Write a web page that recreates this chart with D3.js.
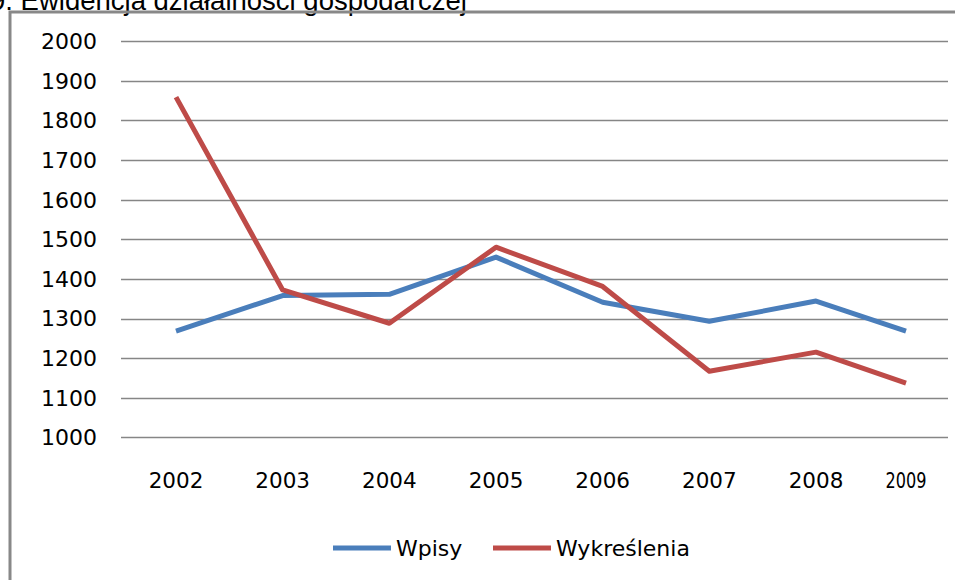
<!DOCTYPE html>
<html>
<head>
<meta charset="utf-8">
<script src="https://cdn.jsdelivr.net/npm/d3@7"></script>
<style>
  body { margin: 0; background: #fff; }
  svg { display: block; }
</style>
</head>
<body>
<div id="chart"></div>
<script>
// data
const years = [2002, 2003, 2004, 2005, 2006, 2007, 2008, 2009];
const wpisy = [1268, 1358, 1361, 1455, 1341, 1293, 1344, 1268];
const wykreslenia = [1859, 1372, 1288, 1480, 1381, 1167, 1215, 1137];
const yTicks = [1000, 1100, 1200, 1300, 1400, 1500, 1600, 1700, 1800, 1900, 2000];
const seriesNames = ["Wpisy", "Wykreślenia"];
const colors = ["#4a7ebb", "#be4b48"];

const width = 955, height = 580;

const svg = d3.select("#chart").append("svg")
    .attr("width", width)
    .attr("height", height);

// title, cut off at the top of the picture
svg.append("text")
    .attr("x", -10)
    .attr("y", 10)
    .attr("font-family", "Liberation Sans, Arial, sans-serif")
    .attr("font-size", 27.5)
    .attr("fill", "#000")
    .text("9. Ewidencja działalności gospodarczej");

// chart frame (left + top border)
svg.append("path")
    .attr("d", "M10,580 V12 H955")
    .attr("fill", "none")
    .attr("stroke", "#888")
    .attr("stroke-width", 3);

// scales - last category sits closer in the original
const x = d3.scaleLinear()
    .domain([2002, 2008, 2009])
    .range([176, 816, 906]);

const y = d3.scaleLinear()
    .domain([1000, 2000])
    .range([437.3, 41.3]);

// gridlines
svg.append("g")
    .selectAll("line")
    .data(yTicks)
    .join("line")
    .attr("x1", 121)
    .attr("x2", 948)
    .attr("y1", d => Math.round(y(d)) + 0.5)
    .attr("y2", d => Math.round(y(d)) + 0.5)
    .attr("stroke", "#868686")
    .attr("stroke-width", 1.5);

// y labels
svg.append("g")
    .selectAll("text")
    .data(yTicks)
    .join("text")
    .attr("x", 97)
    .attr("y", d => y(d))
    .attr("dy", "0.36em")
    .attr("text-anchor", "end")
    .attr("font-family", "DejaVu Sans, sans-serif")
    .attr("font-size", 22)
    .attr("fill", "#000")
    .text(d => d);

// x labels
svg.append("g")
    .selectAll("text")
    .data(years)
    .join("text")
    .attr("x", d => x(d))
    .attr("y", 488)
    .attr("text-anchor", "middle")
    .attr("font-family", d => d === 2009 ? "DejaVu Sans Condensed, DejaVu Sans, sans-serif" : "DejaVu Sans, sans-serif")
    .attr("font-size", 21.5)
    .attr("textLength", d => d === 2009 ? 41 : null)
    .attr("lengthAdjust", "spacingAndGlyphs")
    .attr("fill", "#000")
    .text(d => d);

// lines
const line = d3.line()
    .x((d, i) => x(years[i]))
    .y(d => y(d));

[wpisy, wykreslenia].forEach((vals, i) => {
    svg.append("path")
        .datum(vals)
        .attr("d", line)
        .attr("fill", "none")
        .attr("stroke", colors[i])
        .attr("stroke-width", 5)
        .attr("stroke-linejoin", "round");
});

// legend
const legendX = [333, 493];
const legend = svg.append("g");
seriesNames.forEach((name, i) => {
    legend.append("line")
        .attr("x1", legendX[i])
        .attr("x2", legendX[i] + 58)
        .attr("y1", 548)
        .attr("y2", 548)
        .attr("stroke", colors[i])
        .attr("stroke-width", 5);
    legend.append("text")
        .attr("x", legendX[i] + 63)
        .attr("y", 556)
        .attr("font-family", "DejaVu Sans, sans-serif")
        .attr("font-size", 22)
        .attr("fill", "#000")
        .text(name);
});
</script>
</body>
</html>
